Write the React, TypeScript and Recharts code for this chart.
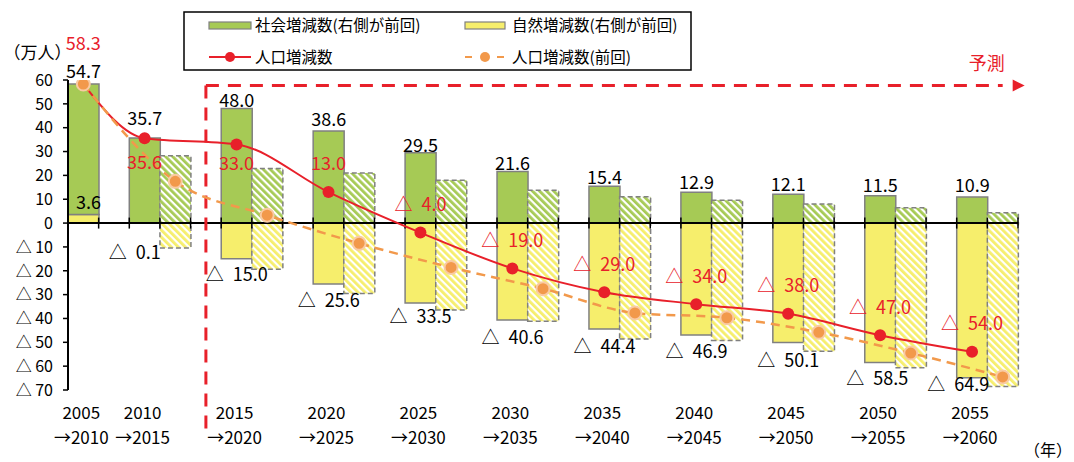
import React from 'react';
import { ComposedChart, Bar, Line, XAxis, YAxis, ReferenceLine, LabelList, Legend } from 'recharts';

// ---------- data ----------
const periodStart = ['2005', '2010', '2015', '2020', '2025', '2030', '2035', '2040', '2045', '2050', '2055'];
const periodEnd = ['2010', '2015', '2020', '2025', '2030', '2035', '2040', '2045', '2050', '2055', '2060'];
const socialCurrent = [54.7, 35.7, 48.0, 38.6, 29.5, 21.6, 15.4, 12.9, 12.1, 11.5, 10.9];
const naturalCurrent = [3.6, -0.1, -15.0, -25.6, -33.5, -40.6, -44.4, -46.9, -50.1, -58.5, -64.9];
const populationCurrent = [58.3, 35.6, 33.0, 13.0, -4.0, -19.0, -29.0, -34.0, -38.0, -47.0, -54.0];
const socialPrevious: (number | null)[] = [null, 28.2, 22.9, 21.0, 18.0, 13.8, 11.0, 9.6, 8.0, 6.4, 4.3];
const naturalPrevious: (number | null)[] = [null, -10.4, -19.4, -29.5, -36.5, -41.2, -48.6, -49.2, -53.7, -60.7, -68.5];
const populationPrevious = [58.3, 17.5, 3.3, -8.5, -18.6, -27.5, -37.7, -39.7, -45.8, -54.5, -64.5];
const yTicks = [60, 50, 40, 30, 20, 10, 0, -10, -20, -30, -40, -50, -60, -70];

// ---------- label placement (styling) ----------
const socialLabelGap = [13, 19, 8, 12, 7, 8, 8.5, 10, 10, 10, 11.5];
const naturalLabelGap = [12, 29, 16, 16, 14, 18, 18, 17, 17.5, 15.5, 7];
const naturalLabelShift = [5, -10, 0, 0, 0, 0, 0, 0, 0, -3, -14];
const populationLabelOffset = [-41, 24, 19, -29, -28, -28, -28, -27.5, -28, -28, -28];

// ---------- styles ----------
const FONT = "'Noto Sans CJK JP', 'Noto Sans', sans-serif";
const GREEN = '#A6CA55';
const YELLOW = '#F6EE6C';
const GREY = '#808080';
const RED = '#E8202A';
const ORANGE = '#F2994B';

type Row = {
  key: string;
  period: number;
  kind: 'cur' | 'prev' | 'gap';
  natCur: number | null;
  socCur: number | null;
  natPrev: number | null;
  socPrev: number | null;
  popCur: number | null;
  popPrev: number | null;
};

const rows: Row[] = [];
periodStart.forEach((_, i) => {
  const hasPrev = socialPrevious[i] != null;
  rows.push({
    key: `c${i}`, period: i, kind: 'cur',
    natCur: naturalCurrent[i], socCur: socialCurrent[i], natPrev: null, socPrev: null,
    popCur: populationCurrent[i], popPrev: hasPrev ? null : populationPrevious[i],
  });
  if (hasPrev) {
    rows.push({
      key: `p${i}`, period: i, kind: 'prev',
      natCur: null, socCur: null, natPrev: naturalPrevious[i], socPrev: socialPrevious[i],
      popCur: null, popPrev: populationPrevious[i],
    });
  }
  if (i < periodStart.length - 1) {
    rows.push({
      key: `g${i}`, period: i, kind: 'gap',
      natCur: null, socCur: null, natPrev: null, socPrev: null, popCur: null, popPrev: null,
    });
  }
});

const fmt = (v: number) => (v < 0 ? `△\u2002${Math.abs(v).toFixed(1)}` : v.toFixed(1));

const num = (v: any, d = 0) => (typeof v === 'number' && !isNaN(v) ? v : Number(v) || d);

const boxOf = (props: any) => {
  const vb = props.viewBox || {};
  const x = num(props.x ?? vb.x);
  const y = num(props.y ?? vb.y);
  const w = num(props.width ?? vb.width);
  const h = num(props.height ?? vb.height);
  return { x, y, w, h, top: Math.min(y, y + h), bottom: Math.max(y, y + h) };
};

const SocialLabel = (props: any) => {
  const { value } = props;
  if (value === null || value === undefined || value === '') return null;
  const i = Number(value);
  const b = boxOf(props);
  return (
    <text x={b.x + b.w / 2} y={b.top - socialLabelGap[i]} dy="0.36em" textAnchor="middle"
      fontSize={18} fill="#000" fontFamily={FONT}>
      {fmt(socialCurrent[i])}
    </text>
  );
};

const NaturalLabel = (props: any) => {
  const { value } = props;
  if (value === null || value === undefined || value === '') return null;
  const i = Number(value);
  const b = boxOf(props);
  const v = naturalCurrent[i];
  const cy = v < 0 ? b.bottom + naturalLabelGap[i] : b.top - naturalLabelGap[i];
  return (
    <text x={b.x + b.w / 2 + naturalLabelShift[i]} y={cy} dy="0.36em" textAnchor="middle"
      fontSize={18} fill="#000" fontFamily={FONT}>
      {fmt(v)}
    </text>
  );
};

const PopulationLabel = (props: any) => {
  const { value } = props;
  if (value === null || value === undefined || value === '') return null;
  const i = Number(value);
  const x = num(props.x);
  const y = num(props.y);
  return (
    <text x={x} y={y + populationLabelOffset[i]} dy="0.36em" textAnchor="middle"
      fontSize={18} fill={RED} fontFamily={FONT}>
      {fmt(populationCurrent[i])}
    </text>
  );
};

const XTick = (props: any) => {
  const { x, y, payload } = props;
  const row = rows.find((r) => r.key === payload?.value);
  if (!row || row.kind !== 'cur') return <g />;
  return (
    <g>
      <text x={x - 2} y={y} dy={29} textAnchor="middle" fontSize={17} fill="#000" fontFamily={FONT}>
        {periodStart[row.period]}
      </text>
      <text x={x - 2} y={y} dy={54} textAnchor="middle" fontSize={17} fill="#000" fontFamily={FONT}>
        {`→${periodEnd[row.period]}`}
      </text>
    </g>
  );
};

const YTick = (props: any) => {
  const { x, y, payload } = props;
  const v = Number(payload?.value);
  return (
    <text x={x} y={y} dy="0.36em" textAnchor="end" fontSize={16} fill="#000" fontFamily={FONT}>
      {v < 0 ? `△ ${-v}` : `${v}`}
    </text>
  );
};

const UnitLabel = (props: any) => {
  const vb = props.viewBox || { x: 0, y: 80, width: 68, height: 310 };
  return (
    <text x={num(vb.x) + 37.5} y={num(vb.y, 80) - 27} dy="0.36em" textAnchor="middle"
      fontSize={17} fill="#000" fontFamily={FONT}>
      （万人）
    </text>
  );
};

const YearLabel = (props: any) => {
  const vb = props.viewBox || { x: 68, y: 390, width: 950, height: 72 };
  return (
    <text x={num(vb.x, 68) + num(vb.width, 950) + 30} y={num(vb.y, 390) + 60} dy="0.36em"
      textAnchor="middle" fontSize={16} fill="#000" fontFamily={FONT}>
      （年）
    </text>
  );
};

const ZeroAxis = (props: any) => {
  const x1 = num(props.x1);
  const x2 = num(props.x2);
  const y = num(props.y1);
  const n = rows.length;
  const step = (x2 - x1) / n;
  const marks = Array.from({ length: n + 1 }, (_, k) => x1 + k * step);
  return (
    <g>
      <line x1={x1} y1={y} x2={x2} y2={y} stroke="#000" strokeWidth={2} />
      {marks.map((mx, k) => (
        <line key={k} x1={mx} y1={y - 5.5} x2={mx} y2={y + 5.5} stroke="#000" strokeWidth={1.5} />
      ))}
    </g>
  );
};

const ForecastArrow = (props: any) => {
  const x1 = num(props.x1);
  const x2 = num(props.x2);
  const y = num(props.y1);
  return (
    <g>
      <line x1={x1} y1={y} x2={x2} y2={y} stroke={RED} strokeWidth={3} strokeDasharray="13 9" />
      <polygon points={`${x2 + 10},${y - 6} ${x2 + 22},${y} ${x2 + 10},${y + 6}`} fill={RED} />
      <text x={x2 - 16} y={y - 22} dy="0.36em" textAnchor="middle" fontSize={18} fill={RED} fontFamily={FONT}>
        予測
      </text>
    </g>
  );
};

const LegendBox = () => (
  <svg width={509} height={60} style={{ display: 'block' }}>
    <rect x={1} y={1} width={507} height={58} fill="#fff" stroke="#000" strokeWidth={1.5} />
    <rect x={26} y={11} width={42} height={7} fill={GREEN} stroke={GREY} strokeWidth={1.2} />
    <text x={72} y={14} dy="0.36em" fontSize={15.5} fill="#000" fontFamily={FONT}>社会増減数(右側が前回)</text>
    <rect x={282} y={11} width={40} height={7} fill={YELLOW} stroke={GREY} strokeWidth={1.2} />
    <text x={329} y={14} dy="0.36em" fontSize={15.5} fill="#000" fontFamily={FONT}>自然増減数(右側が前回)</text>
    <line x1={26} y1={46} x2={68} y2={46} stroke={RED} strokeWidth={2} />
    <circle cx={47} cy={46} r={5} fill={RED} />
    <text x={72} y={46} dy="0.36em" fontSize={15.5} fill="#000" fontFamily={FONT}>人口増減数</text>
    <line x1={282} y1={46} x2={322} y2={46} stroke={ORANGE} strokeWidth={2} strokeDasharray="7 25" />
    <circle cx={302} cy={46} r={5} fill={ORANGE} />
    <text x={329} y={46} dy="0.36em" fontSize={15.5} fill="#000" fontFamily={FONT}>人口増減数(前回)</text>
  </svg>
);

export default function App() {
  return (
    <div style={{ position: 'absolute', left: 0, top: 0, width: 1074, height: 462, background: '#fff' }}>
      <svg width={0} height={0} style={{ position: 'absolute' }}>
        <defs>
          <pattern id="hatchGreen" width={5} height={5} patternUnits="userSpaceOnUse" patternTransform="rotate(-45)">
            <rect width={5} height={5} fill="#fff" />
            <rect width={2.8} height={5} fill={GREEN} />
          </pattern>
          <pattern id="hatchYellow" width={5} height={5} patternUnits="userSpaceOnUse" patternTransform="rotate(-45)">
            <rect width={5} height={5} fill="#fff" />
            <rect width={2.8} height={5} fill={YELLOW} />
          </pattern>
        </defs>
      </svg>
      <ComposedChart
        width={1074}
        height={462}
        data={rows}
        margin={{ top: 80, right: 56, bottom: 0, left: 0 }}
        stackOffset="sign"
        barCategoryGap={0}
        barGap={0}
      >
        <XAxis
          dataKey="key"
          interval={0}
          axisLine={false}
          tickLine={false}
          tickSize={0}
          tickMargin={0}
          height={72}
          tick={(p: any) => <XTick {...p} />}
          label={(p: any) => <YearLabel {...p} />}
        />
        <YAxis
          type="number"
          domain={[-70, 60]}
          ticks={yTicks}
          interval={0}
          width={68}
          allowDataOverflow
          axisLine={{ stroke: '#000', strokeWidth: 2 }}
          tickLine={{ stroke: '#000', strokeWidth: 1.5 }}
          tickSize={5}
          tickMargin={10}
          tick={(p: any) => <YTick {...p} />}
          label={(p: any) => <UnitLabel {...p} />}
        />
        <Legend
          layout="horizontal"
          verticalAlign="middle"
          align="center"
          wrapperStyle={{ position: 'absolute', left: 183, top: 11, width: 509, height: 60 }}
          content={() => <LegendBox />}
        />
        <Bar dataKey="natCur" stackId="s" fill={YELLOW} stroke={GREY} strokeWidth={1.5} isAnimationActive={false}>
          <LabelList dataKey={(r: Row) => (r.kind === 'cur' ? r.period : null)} content={(p: any) => <NaturalLabel {...p} />} />
        </Bar>
        <Bar dataKey="socCur" stackId="s" fill={GREEN} stroke={GREY} strokeWidth={1.5} isAnimationActive={false}>
          <LabelList dataKey={(r: Row) => (r.kind === 'cur' ? r.period : null)} content={(p: any) => <SocialLabel {...p} />} />
        </Bar>
        <Bar dataKey="natPrev" stackId="s" fill="url(#hatchYellow)" stroke={GREY} strokeWidth={1.5} strokeDasharray="5 3" isAnimationActive={false} />
        <Bar dataKey="socPrev" stackId="s" fill="url(#hatchGreen)" stroke={GREY} strokeWidth={1.5} strokeDasharray="5 3" isAnimationActive={false} />
        <ReferenceLine y={0} ifOverflow="visible" shape={(p: any) => <ZeroAxis {...p} />} />
        <ReferenceLine
          segment={[{ x: 'g1', y: 57.7 }, { x: 'g1', y: -89 }]}
          ifOverflow="visible"
          stroke={RED}
          strokeWidth={3}
          strokeDasharray="13 9"
        />
        <ReferenceLine
          segment={[{ x: 'g1', y: 57.7 }, { x: 'p10', y: 57.7 }]}
          ifOverflow="visible"
          shape={(p: any) => <ForecastArrow {...p} />}
        />
        <Line
          dataKey="popCur"
          type="monotone"
          stroke={RED}
          strokeWidth={2}
          connectNulls
          dot={{ r: 6, fill: RED, stroke: RED, strokeWidth: 0 }}
          activeDot={false}
          isAnimationActive={false}
        >
          <LabelList dataKey={(r: Row) => (r.kind === 'cur' ? r.period : null)} content={(p: any) => <PopulationLabel {...p} />} />
        </Line>
        <Line
          dataKey="popPrev"
          type="monotone"
          stroke={ORANGE}
          strokeWidth={2.5}
          strokeDasharray="9 6"
          connectNulls
          dot={{ r: 6.5, fill: ORANGE, stroke: '#F9CBA3', strokeWidth: 2, strokeDasharray: '' }}
          activeDot={false}
          isAnimationActive={false}
        />
      </ComposedChart>
    </div>
  );
}
